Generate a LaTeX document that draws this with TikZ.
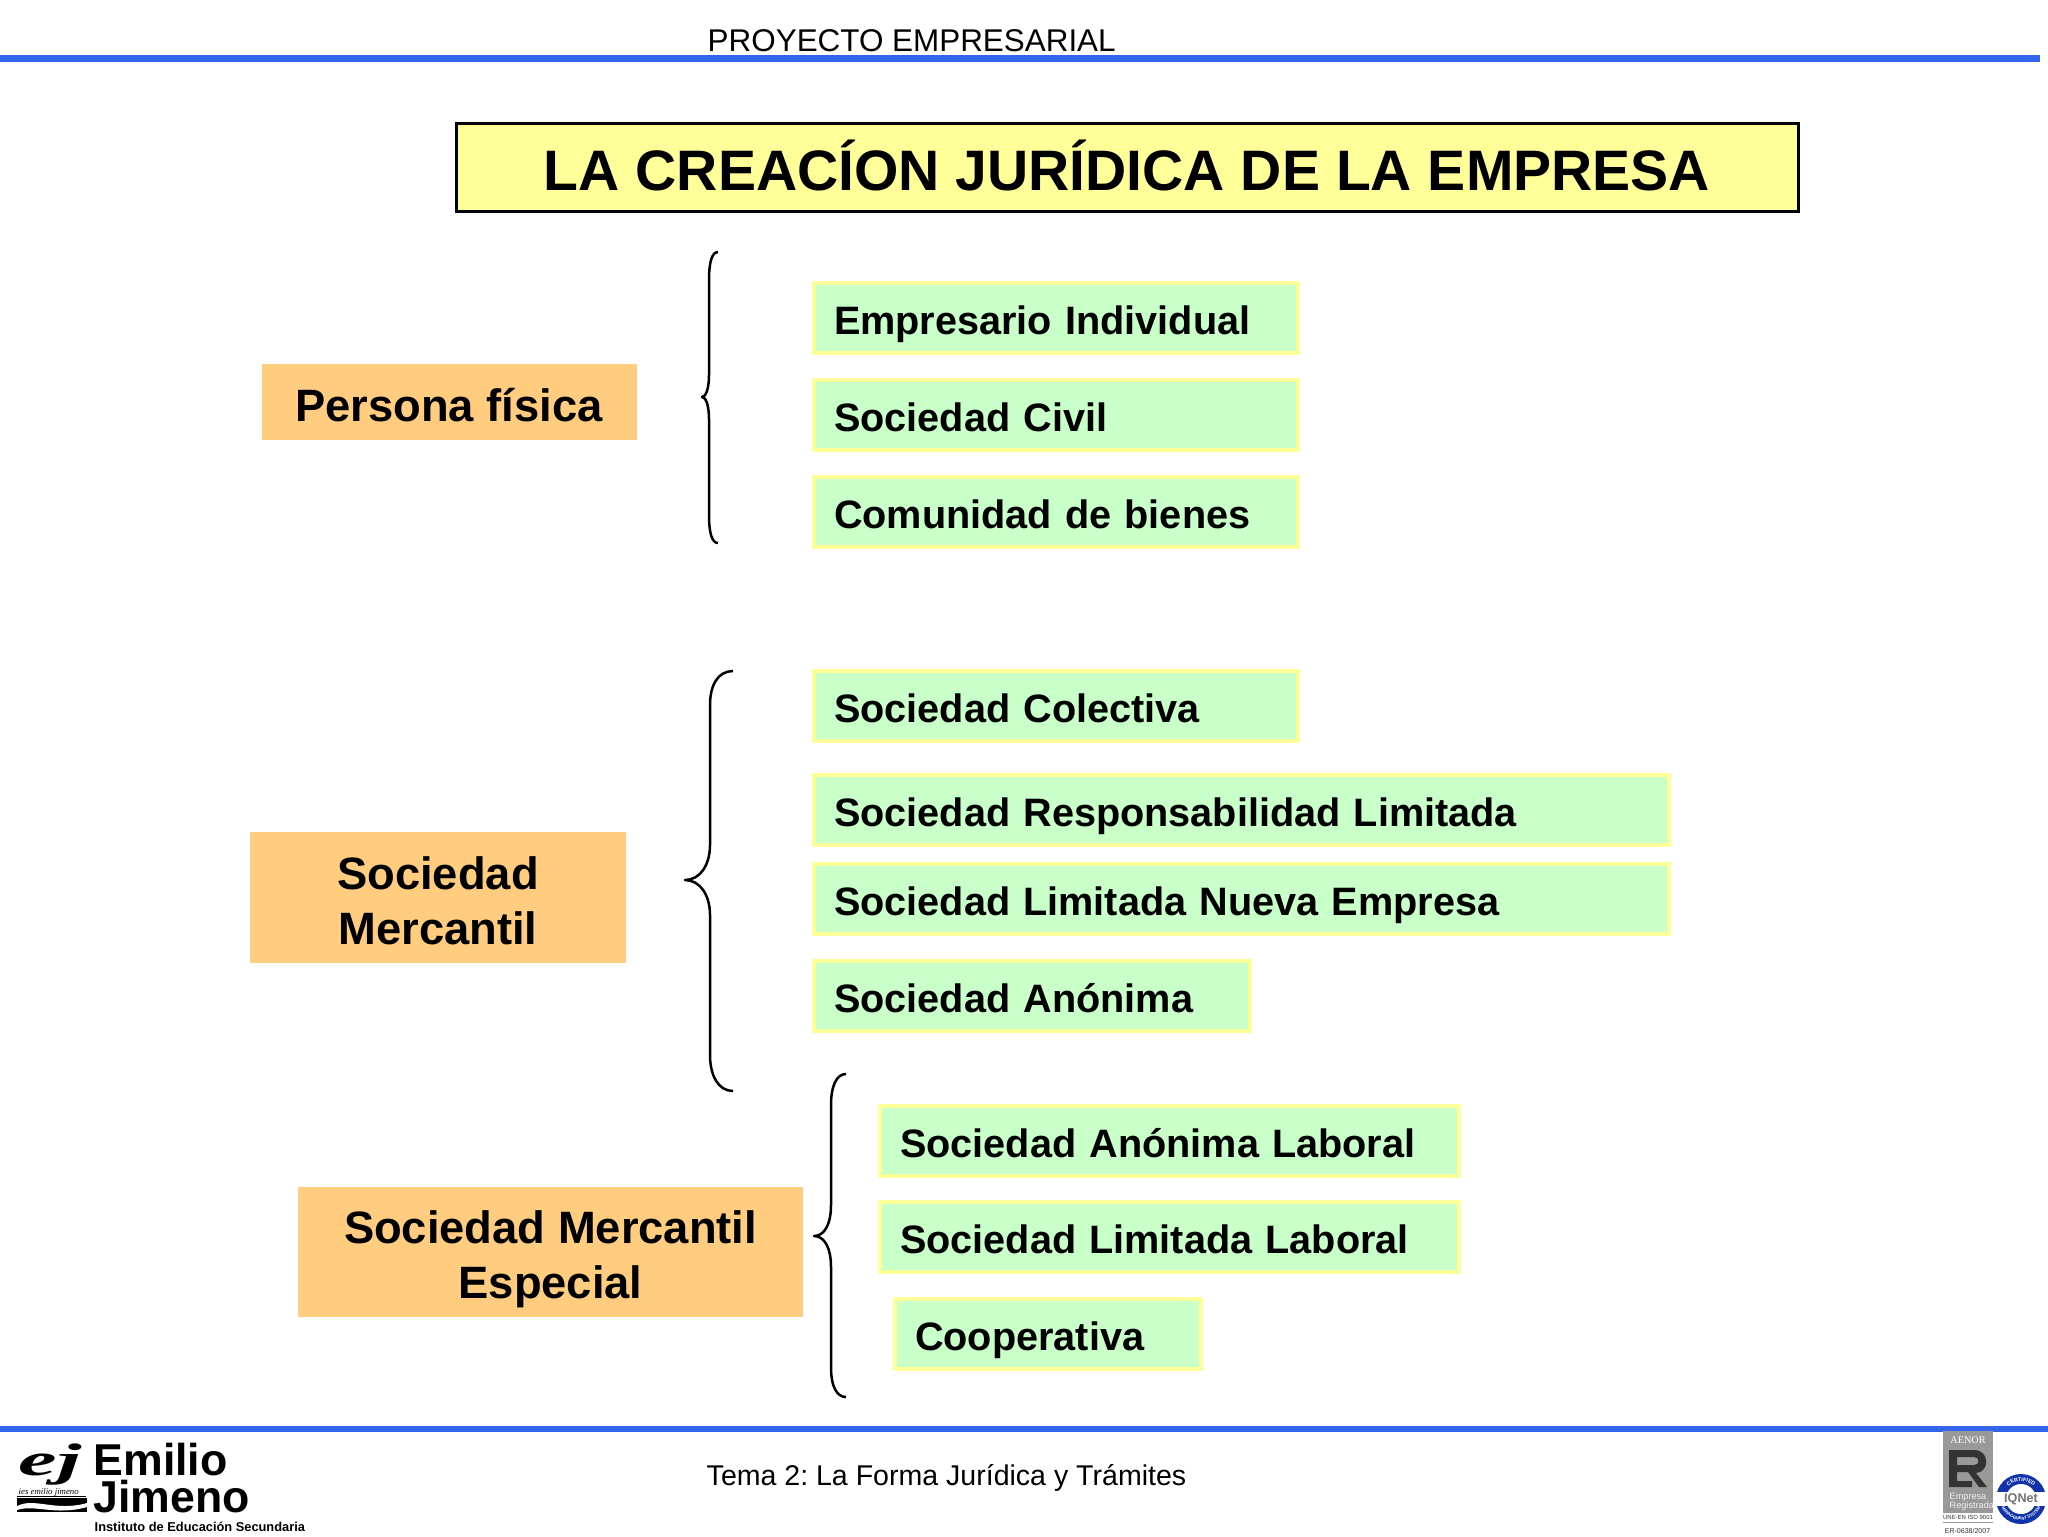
\documentclass[tikz,border=0pt]{standalone}
\usepackage{amsmath,amssymb}
\usepackage{fontspec}
\setmainfont{Liberation Sans}
\newfontfamily\serifface{Liberation Serif}
\usetikzlibrary{decorations.text}

\definecolor{ruleblue}{HTML}{3366EE}
\definecolor{titlefill}{HTML}{FFFF99}
\definecolor{itemfill}{HTML}{C9FFC9}
\definecolor{itemedge}{HTML}{FFFF99}
\definecolor{groupfill}{HTML}{FFCC80}
\definecolor{aenorgray}{HTML}{999999}
\definecolor{aenordark}{HTML}{333333}
\definecolor{iqblue}{HTML}{1133AA}

\tikzset{
  itembox/.style={anchor=west,draw=itemedge,fill=itemfill,line width=0.4mm,inner xsep=2mm,
    inner ysep=0pt,minimum height=6.95mm,text width=#1,align=left,text height=9.2pt,text depth=0pt,
    font=\fontsize{11.28}{13}\selectfont\bfseries},
  groupbox/.style={fill=groupfill,inner sep=0pt,align=center,text depth=0pt,text height=#1,
    font=\fontsize{12.9}{15.6}\selectfont\bfseries},
  bracket/.style={black,line width=0.25mm,line join=round},
  smalltext/.style={anchor=base west,inner sep=0pt,font=\fontsize{#1}{10}\selectfont\frenchspacing},
  logotext/.style={anchor=base west,inner sep=0pt,font=\fontsize{12.7}{13}\selectfont\bfseries}
}

\begin{document}
\begin{tikzpicture}[x=0.1mm,y=-0.1mm]
\useasboundingbox (0,0) rectangle (2048,1536);

% header and footer

\fill [ruleblue] (0,55) rectangle (2040,62);
\fill [ruleblue] (0,1426) rectangle (2048,1432);
\node [smalltext=8.94] (header) at (707,51) {PROYECTO EMPRESARIAL};
\node [smalltext=8.12] (footer) at (706,1485) {Tema 2: La Forma Jurídica y Trámites};

% title

\node [draw=black,line width=0.3mm,fill=titlefill,minimum width=134.2mm,minimum height=8.8mm,
  inner sep=0pt,text depth=1.5pt,font=\fontsize{16.23}{20}\selectfont\bfseries] (title) at (1127,167.5)
  {LA CREACÍON JURÍDICA DE LA EMPRESA};

% groups

\node [groupbox=11pt,minimum width=37.5mm,minimum height=7.6mm] (persona) at (449,402) {Persona física};
\node [groupbox=26.5pt,minimum width=37.6mm,minimum height=13.1mm] (mercantil) at (438,897.5) {Sociedad\\Mercantil};
\node [groupbox=26.5pt,minimum width=50.5mm,minimum height=13mm] (especial) at (550.6,1252) {Sociedad Mercantil\\Especial};

% forms of company

\node [itembox=44.4mm] (individual) at (812,318) {Empresario Individual};
\node [itembox=44.4mm] (civil) at (812,415) {Sociedad Civil};
\node [itembox=44.4mm] (comunidad) at (812,512) {Comunidad de bienes};
\node [itembox=44.4mm] (colectiva) at (812,706) {Sociedad Colectiva};
\node [itembox=81.5mm] (limitada) at (812,810) {Sociedad Responsabilidad Limitada};
\node [itembox=81.5mm] (nueva) at (812,899) {Sociedad Limitada Nueva Empresa};
\node [itembox=39.6mm] (anonima) at (812,996) {Sociedad Anónima};
\node [itembox=53.9mm] (anonimalab) at (878,1141) {Sociedad Anónima Laboral};
\node [itembox=53.9mm] (limitadalab) at (878,1237) {Sociedad Limitada Laboral};
\node [itembox=26.6mm] (cooperativa) at (893,1334) {Cooperativa};

% braces

\draw [bracket] (718,252) .. controls (712,252) and (709,262) .. (709,280) -- (709,375)
  .. controls (709,388) and (706,397) .. (702,397) .. controls (706,397) and (709,406) .. (709,419)
  -- (709,515) .. controls (709,533) and (712,543) .. (718,543);
\draw [bracket] (733,671) .. controls (718,671) and (710,685) .. (710,705) -- (710,845)
  .. controls (710,865) and (700,880) .. (685,880) .. controls (700,880) and (710,895) .. (710,915)
  -- (710,1055) .. controls (710,1075) and (718,1091) .. (733,1091);
\draw [bracket] (846,1074) .. controls (837,1074) and (831,1085) .. (831,1105) -- (831,1205)
  .. controls (831,1225) and (824,1236) .. (814,1236) .. controls (824,1236) and (831,1247) .. (831,1267)
  -- (831,1367) .. controls (831,1387) and (837,1397) .. (846,1397);

% school logo

\node [logotext] (emilio) at (93,1475) {Emilio};
\node [logotext] (jimeno) at (93,1512) {Jimeno};
\node [anchor=base west,inner sep=0pt,font=\fontsize{3.65}{4}\selectfont\bfseries] (instituto) at (94,1531)
  {Instituto de Educación Secundaria};
\node [anchor=base west,inner sep=0pt,font=\fontsize{13}{14}\selectfont\serifface\bfseries\itshape] (ej) at (18,1475)
  {\scalebox{1.9}[1]{ej}};
\node [anchor=base west,inner sep=0pt,font=\fontsize{2.5}{3}\selectfont\serifface\itshape] (ies) at (18,1494)
  {ies emilio jimeno};
\draw [black,line width=0.1mm] (17,1496) -- (86,1496);
\fill [black] (17,1498) rectangle (87,1512);
\fill [white] (17,1506) .. controls (35,1497) and (55,1512) .. (87,1503) -- (87,1507)
  .. controls (55,1516) and (35,1504) .. (17,1510) -- cycle;

% quality marks

\fill [aenorgray] (1943,1431) rectangle (1993,1523);
\node [inner sep=0pt,white,font=\fontsize{2.9}{3}\selectfont\serifface] (aenor) at (1968,1440) {AENOR};
\fill [aenordark,even odd rule] (1949,1450) -- (1974,1450) .. controls (1990,1450) and (1990,1472) .. (1976,1473)
  -- (1987,1487) -- (1979,1487) -- (1968,1472) -- (1957,1472) -- (1957,1481) -- (1972,1481) -- (1972,1487)
  -- (1949,1487) -- cycle
  (1957,1457) -- (1957,1465) -- (1974,1465) .. controls (1980,1465) and (1980,1457) .. (1974,1457) -- cycle;
\node [inner sep=0pt,align=left,anchor=north west,text=white!85!aenorgray,font=\fontsize{2.6}{2.6}\selectfont] (registrada) at (1949,1492)
  {Empresa\\Registrada};
\node [fill=white,inner sep=0pt,minimum width=4.7mm,minimum height=0.9mm,font=\fontsize{1.7}{2}\selectfont,text=aenordark] (norma) at (1968,1517.5)
  {UNE-EN ISO 9001};
\node [inner sep=0pt,text=aenordark,font=\fontsize{2}{2}\selectfont] (registro) at (1967.5,1531) {ER-0638/2007};

\fill [iqblue] (2021,1499) circle (25);
\fill [white] (2021,1499) circle (15);
\fill [white] (1996,1492) rectangle (2046,1506);
\node [inner sep=0pt,text=black!55,font=\fontsize{3.6}{4}\selectfont\bfseries] (iqnet) at (2021,1499) {IQNet};
\path [decorate,decoration={text along path,text align=center,
  text={|\fontsize{1.5}{2}\selectfont\bfseries\color{white}|CERTIFIED}}]
  (2021,1499) ++(180:18) arc (180:360:18);
\path [decorate,decoration={text along path,text align=center,
  text={|\fontsize{1.2}{2}\selectfont\bfseries\color{white}|MANAGEMENT SYSTEM}}]
  (2021,1499) ++(180:21) arc (180:0:21);

\end{tikzpicture}
\end{document}
